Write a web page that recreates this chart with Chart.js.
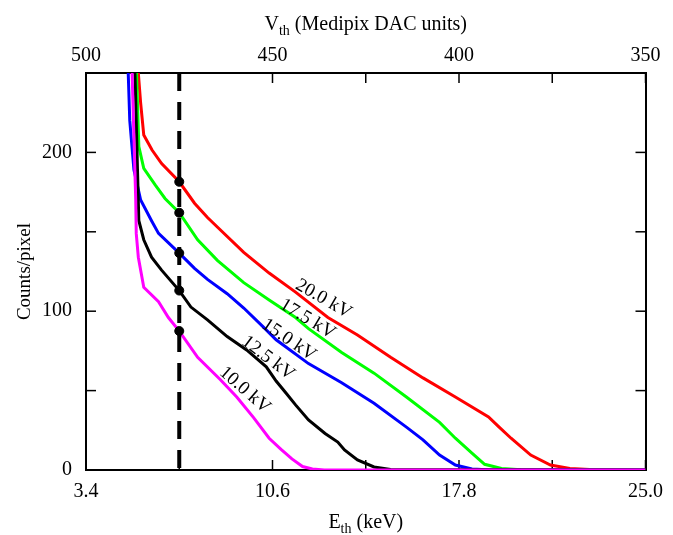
<!DOCTYPE html>
<html>
<head>
<meta charset="utf-8">
<script src="https://cdn.jsdelivr.net/npm/chart.js@4.4.1/dist/chart.umd.min.js"></script>
<style>
html,body{margin:0;padding:0;background:#fff}
#wrap{width:673px;height:535px}
</style>
</head>
<body>
<div id="wrap"><canvas id="c" width="673" height="535"></canvas></div>
<script>
// ─── DATA ───────────────────────────────────────────────────────────
// threshold energy (keV) vs counts/pixel, one pair of arrays per tube voltage
const redE   = [5.40,5.42,5.51,5.63,5.95,6.32,7.0,7.59,8.09,8.47,9.49,10.47,11.49,12.74,13.88,15.16,16.41,17.66,18.94,19.35,19.81,20.57,21.33,22.08,22.84,25.0];
const redC   = [262,250,231,211,201.5,193,181.5,168,159,153,137,124,112,96,85,71,58,46,33.4,27,20,9.4,3.1,1,0.3,0];
const greenE = [5.34,5.35,5.44,5.63,6.07,6.45,7.0,7.71,8.47,9.49,10.47,11.49,11.99,13.27,14.52,15.77,17.05,17.66,18.30,18.79,19.44,20.19,25.0];
const greenC = [262,250,203.6,190,179.5,171,162,145,132,118,107,96,89,74,61,46,30,20,10.7,3.6,1,0.2,0];
const blueE  = [5.02,5.03,5.09,5.25,5.51,5.93,6.20,7.0,7.59,8.09,8.85,9.49,10.25,10.74,11.99,13.27,14.52,15.77,16.41,17.05,17.66,18.30,19.06,25.0];
const blueC  = [262,250,220,189,170,157,149,136.6,127,120,111,102,90,82,67,55,42,27,19,9.4,3.1,0.6,0,0];
const blackE = [5.28,5.29,5.44,5.63,5.93,6.31,7.0,7.45,8.09,8.85,9.60,10.36,10.74,11.12,11.49,11.99,12.63,13.12,13.38,13.88,14.52,15.16,25.0];
const blackC = [262,250,157,145,134,126,113,102.6,94.5,84,75.6,65,56,48.5,41,31.5,23,17.6,12.6,6.3,1.9,0.3,0];
const magE   = [5.17,5.18,5.32,5.34,5.42,5.63,6.20,6.58,7.0,7.71,8.58,9.22,9.87,10.47,10.93,11.35,11.76,12.14,12.6,25.0];
const magC   = [262,250,170,149,134,115,106,96,87.5,71,57,46,33,20,13,7,2.2,0.6,0,0];

// dashed threshold line and the marked crossings
const dashE = [7.0,7.0];
const dashC = [250,0];
const dotE  = [7.0,7.0,7.0,7.0,7.0];
const dotC  = [181.5,162,136.6,113,87.5];

// curve labels
const kvLabels = ['20.0 kV','17.5 kV','15.0 kV','12.5 kV','10.0 kV'];
const kvE      = [12.57,11.95,11.23,10.43,9.53];
const kvC      = [107.7,95.1,81.9,70.5,50.4];
const kvAngle  = [30,31,34,37,41];

// axes
const eTicks  = [3.4,7.0,10.6,14.2,17.8,21.4,25.0];
const eLabels = ['3.4','','10.6','','17.8','','25.0'];
const vTicks  = [500,475,450,425,400,375,350];
const vLabels = ['500','','450','','400','','350'];
const cTicks  = [0,50,100,150,200,250];
const cLabels = ['0','','100','','200',''];

const FONT = '"Liberation Serif","Times New Roman",serif';

function pts(E,C){ return E.map((e,i)=>({x:e,y:C[i]})); }
function curve(label,E,C,color,order){
  return {label,data:pts(E,C),borderColor:color,borderWidth:3,pointRadius:0,tension:0,fill:false,order};
}

// ─── PLUGINS ────────────────────────────────────────────────────────
// inward tick marks on all four sides
const tickMarks = {
  id:'tickMarks',
  beforeDatasetsDraw(chart){
    const {ctx,chartArea:a,scales} = chart;
    ctx.save();
    ctx.strokeStyle='#000'; ctx.lineWidth=1.5;
    const seg=(x1,y1,x2,y2)=>{ctx.beginPath();ctx.moveTo(x1,y1);ctx.lineTo(x2,y2);ctx.stroke();};
    eTicks.forEach(v=>{const p=scales.x.getPixelForValue(v); seg(p,a.bottom,p,a.bottom-10);});
    vTicks.forEach(v=>{const p=scales.x2.getPixelForValue(v); seg(p,a.top,p,a.top+10);});
    cTicks.forEach(v=>{const p=scales.y.getPixelForValue(v); seg(a.left,p,a.left+10,p);});
    cTicks.forEach(v=>{const p=scales.y2.getPixelForValue(v); seg(a.right,p,a.right-10,p);});
    ctx.restore();
  }
};

// rotated kV labels beside each curve
const curveLabels = {
  id:'curveLabels',
  afterDatasetsDraw(chart){
    const {ctx,scales} = chart;
    ctx.save();
    ctx.fillStyle='#000';
    ctx.font='19px '+FONT;
    ctx.textAlign='center'; ctx.textBaseline='middle';
    kvLabels.forEach((t,i)=>{
      ctx.save();
      ctx.translate(scales.x.getPixelForValue(kvE[i]),scales.y.getPixelForValue(kvC[i]));
      ctx.rotate(kvAngle[i]*Math.PI/180);
      ctx.fillText(t,0,0);
      ctx.restore();
    });
    ctx.restore();
  }
};

// axis titles (with subscripts)
function subText(ctx,parts,cx,base){
  let w=0;
  parts.forEach(p=>{ctx.font=p.size+'px '+FONT; p.w=ctx.measureText(p.t).width; w+=p.w;});
  let x=cx-w/2;
  parts.forEach(p=>{ctx.font=p.size+'px '+FONT; ctx.fillText(p.t,x,base+(p.dy||0)); x+=p.w;});
}
const axisTitles = {
  id:'axisTitles',
  afterDraw(chart){
    const {ctx,chartArea:a} = chart;
    const cx=(a.left+a.right)/2;
    ctx.save();
    ctx.fillStyle='#000'; ctx.textAlign='left'; ctx.textBaseline='alphabetic';
    subText(ctx,[{t:'V',size:20},{t:'th',size:14,dy:5},{t:' (Medipix DAC units)',size:20}],cx,30);
    subText(ctx,[{t:'E',size:20},{t:'th',size:14,dy:5},{t:' (keV)',size:20}],cx,528);
    ctx.translate(25,(a.top+a.bottom)/2);
    ctx.rotate(-Math.PI/2);
    ctx.textAlign='center'; ctx.textBaseline='middle';
    ctx.font='19px '+FONT;
    ctx.fillText('Counts/pixel',0,0);
    ctx.restore();
  }
};

// ─── CHART ──────────────────────────────────────────────────────────
const tickFont = {family:FONT,size:20};
const noGrid = {display:false,drawTicks:false};
const frame = {display:true,color:'#000',width:2};

new Chart(document.getElementById('c'),{
  type:'line',
  data:{datasets:[
    {label:'crossings',type:'scatter',data:pts(dotE,dotC),pointRadius:4.5,pointBackgroundColor:'#000',pointBorderColor:'#000',order:0},
    {label:'threshold',data:pts(dashE,dashC),borderColor:'#000',borderWidth:4,borderDash:[18,11],pointRadius:0,order:1},
    curve('10.0 kV',magE,magC,'#ff00ff',2),
    curve('12.5 kV',blackE,blackC,'#000000',3),
    curve('15.0 kV',blueE,blueC,'#0000ff',4),
    curve('17.5 kV',greenE,greenC,'#00ff00',5),
    curve('20.0 kV',redE,redC,'#ff0000',6)
  ]},
  options:{
    responsive:false,
    devicePixelRatio:1,
    animation:false,
    layout:{padding:0},
    plugins:{legend:{display:false},title:{display:false},tooltip:{enabled:false}},
    scales:{
      x:{type:'linear',position:'bottom',min:3.4,max:25,
        afterBuildTicks:s=>{s.ticks=eTicks.map(v=>({value:v}));},
        afterFit:s=>{s.height=65;},
        ticks:{callback:(v,i)=>eLabels[i],font:tickFont,color:'#000',padding:10,maxRotation:0,autoSkip:false},
        grid:noGrid,border:frame},
      x2:{type:'linear',position:'top',min:350,max:500,reverse:true,
        afterBuildTicks:s=>{s.ticks=vTicks.map(v=>({value:v}));},
        afterFit:s=>{s.height=73;},
        ticks:{callback:(v,i)=>vLabels[i],font:tickFont,color:'#000',padding:5,maxRotation:0,autoSkip:false},
        grid:noGrid,border:frame},
      y:{type:'linear',position:'left',min:0,max:250,
        afterBuildTicks:s=>{s.ticks=cTicks.map(v=>({value:v}));},
        afterFit:s=>{s.width=86;},
        ticks:{callback:(v,i)=>cLabels[i],font:tickFont,color:'#000',padding:14,autoSkip:false},
        grid:noGrid,border:frame},
      y2:{type:'linear',position:'right',min:0,max:250,
        afterFit:s=>{s.width=16;},
        ticks:{display:false},
        grid:noGrid,border:frame}
    }
  },
  plugins:[tickMarks,curveLabels,axisTitles]
});
</script>
</body>
</html>
